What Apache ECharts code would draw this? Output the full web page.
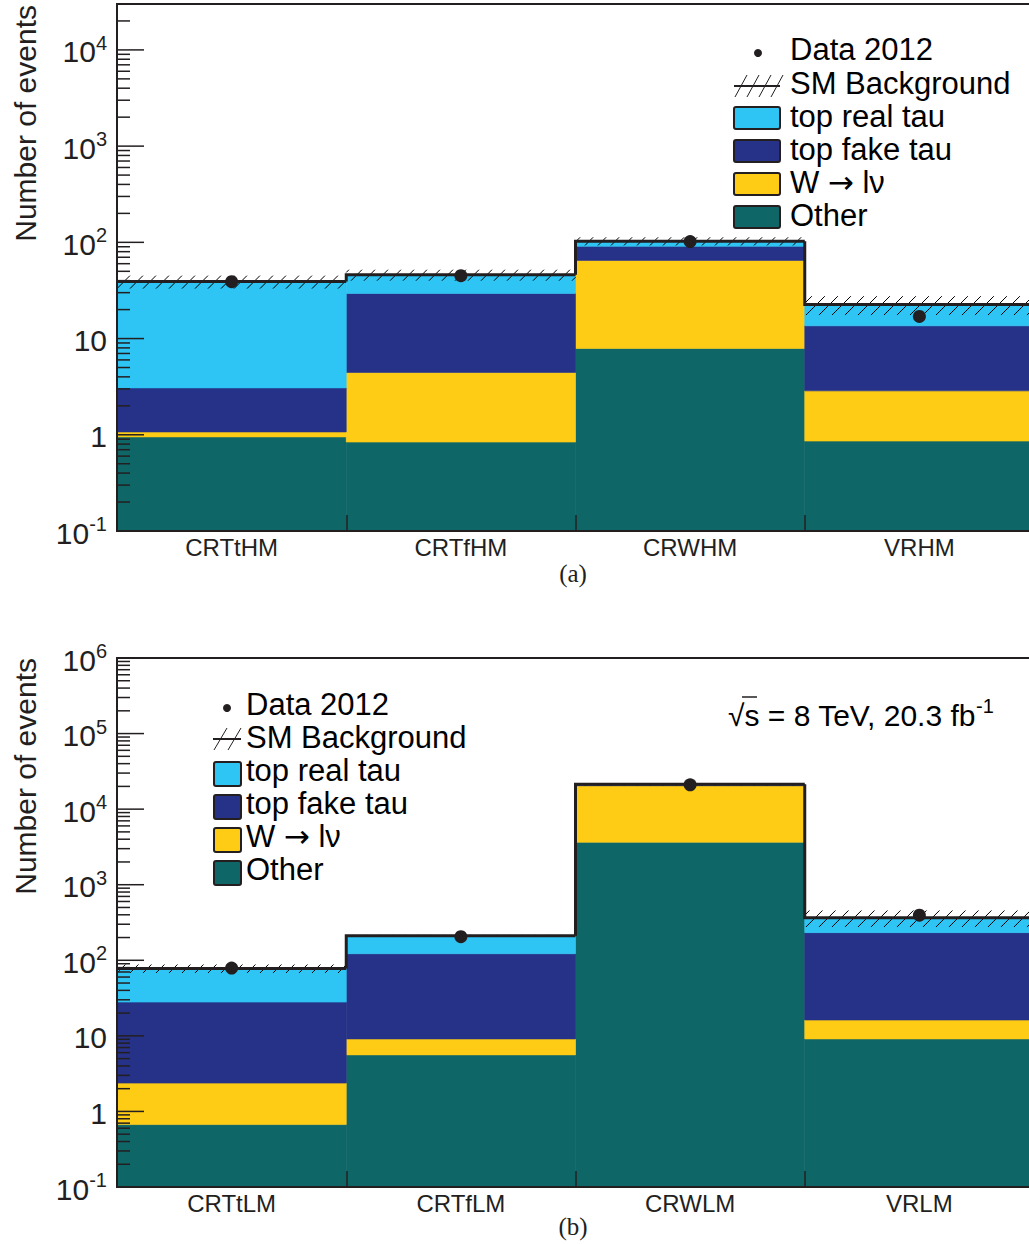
<!DOCTYPE html>
<html><head><meta charset="utf-8">
<script src="https://cdn.jsdelivr.net/npm/echarts@6/dist/echarts.min.js"></script>
<style>html,body{margin:0;padding:0;background:#fff}#c{width:1029px;height:1244px}</style>
</head><body><div id="c"></div>
<script>
// ---------- data (panel a) ----------
const catsA     = ['CRTtHM', 'CRTfHM', 'CRWHM', 'VRHM'];
const otherA    = [0.95, 0.84, 7.9, 0.86];
const wlnuA     = [0.12, 3.6, 57, 2.0];
const topFakeA  = [2.0, 25, 26, 10.7];
const topRealA  = [36, 16.5, 12, 9.0];
const bkgErrA   = [6, 6, 10, 5];
const dataA     = [39, 45, 102, 17];
// ---------- data (panel b) ----------
const catsB     = ['CRTtLM', 'CRTfLM', 'CRWLM', 'VRLM'];
const otherB    = [0.67, 5.6, 3640, 9.1];
const wlnuB     = [1.7, 3.5, 16760, 7.1];
const topFakeB  = [25.6, 113, 650, 216];
const topRealB  = [50, 89, 250, 134];
const bkgErrB   = [10, 6, 850, 90];
const dataB     = [79, 205, 21000, 395];
// ---------- text ----------
const legendLabels = ['Data 2012', 'SM Background', 'top real tau', 'top fake tau', 'W \u2192 l\u03bd', 'Other'];
const panelTags = ['(a)', '(b)'];
const yTitle = 'Number of events';
const yMaxA = 30000, yMaxB = 1000000, yMin = 0.1;

const FONT = "'Liberation Sans', Arial, Helvetica, sans-serif";
const INK = '#231f20';
const COL = ['#0f6667', '#fecb15', '#263287', '#2ec4f3']; // other, W, top fake, top real

function stackRows(comps) {
  const n = comps[0].length, cum = new Array(n).fill(0);
  return comps.map(arr => arr.map((v, i) => { const lo = cum[i]; cum[i] += v; return [i, lo, cum[i]]; }));
}
function totals(comps) { return comps[0].map((_, i) => comps.reduce((s, a) => s + a[i], 0)); }

function rectItem(color) {
  return function (params, api) {
    const cs = params.coordSys, N = 4;
    const i = api.value(0), lo = api.value(1), hi = api.value(2);
    const w = cs.width / N, x0 = cs.x + i * w;
    const yHi = api.coord([i, hi])[1];
    const yLo = lo > 0 ? api.coord([i, lo])[1] : cs.y + cs.height;
    return { type: 'rect', shape: { x: x0, y: yHi, width: w, height: yLo - yHi },
             style: { fill: color, stroke: color, lineWidth: 0.6 } };
  };
}
function hatchItem(params, api) {
  const cs = params.coordSys, N = 4;
  const i = api.value(0), lo = api.value(1), hi = api.value(2);
  const w = cs.width / N, x0 = cs.x + i * w, x1 = x0 + w;
  const yT = api.coord([i, hi])[1], yB = api.coord([i, lo])[1];
  const h = yB - yT, step = 13, children = [];
  const start = cs.x + Math.floor((x0 - h - cs.x) / step) * step;
  for (let x = start; x < x1; x += step) {
    let ax = x, ay = yB, bx = x + h, by = yT;
    if (ax < x0) { const d = x0 - ax; ax = x0; ay = yB - d; }
    if (bx > x1) { const d = bx - x1; bx = x1; by = yT + d; }
    if (bx <= ax) continue;
    children.push({ type: 'line', shape: { x1: ax, y1: ay, x2: bx, y2: by }, style: { stroke: '#000', lineWidth: 1 } });
  }
  return { type: 'group', children };
}
function outlineItem(params, api) {
  const cs = params.coordSys, N = 4;
  const i = api.value(0), t = api.value(1), p = api.value(2);
  const w = cs.width / N, x0 = cs.x + i * w, x1 = x0 + w;
  const y = api.coord([i, t])[1], yp = api.coord([i, p])[1];
  return { type: 'polyline', shape: { points: [[x0, yp], [x0, y], [x1, y]] },
           style: { stroke: INK, lineWidth: 3, fill: null, lineJoin: 'miter' } };
}
function tickItem(params, api) {
  const cs = params.coordSys;
  const v = api.value(1), major = api.value(2);
  const y = api.coord([0, v])[1];
  const len = major ? 27 : 13;
  return { type: 'line', shape: { x1: cs.x, y1: y, x2: cs.x + len, y2: y }, style: { stroke: INK, lineWidth: 1.5 } };
}
function tickData(max) {
  const out = [];
  for (let e = -1; e <= 6; e++) for (let m = 1; m <= 9; m++) {
    const v = m * Math.pow(10, e);
    if (v >= yMin * 0.999 && v <= max * 1.001) out.push([0, v, m === 1 ? 1 : 0]);
  }
  return out;
}
function logLabel(v) {
  const l = Math.log10(v), e = Math.round(l);
  if (Math.abs(l - e) > 1e-6) return '';
  if (e === 0) return '{b|1}';
  if (e === 1) return '{b|10}';
  return '{b|10}{s|' + e + '}';
}

function panel(g, cats, comps, err, data, yMax) {
  const rows = stackRows(comps), tot = totals(comps);
  const series = rows.map((r, k) => ({
    type: 'custom', xAxisIndex: g, yAxisIndex: g, renderItem: rectItem(COL[k]),
    encode: { x: 0, y: [1, 2] }, data: r, z: 1, silent: true
  }));
  series.push({ type: 'custom', xAxisIndex: g, yAxisIndex: g, renderItem: hatchItem, encode: { x: 0, y: [1, 2] },
    data: tot.map((t, i) => [i, t - err[i], t + err[i]]), z: 3, silent: true });
  series.push({ type: 'custom', xAxisIndex: g, yAxisIndex: g, renderItem: outlineItem, encode: { x: 0, y: [1, 2] },
    data: tot.map((t, i) => [i, t, i ? tot[i - 1] : t]), z: 4, silent: true });
  series.push({ type: 'scatter', xAxisIndex: g, yAxisIndex: g, symbol: 'circle', symbolSize: 13,
    itemStyle: { color: INK, opacity: 1 }, data: data.map((v, i) => [i, v]), z: 5, silent: true });
  series.push({ type: 'custom', xAxisIndex: g, yAxisIndex: g, renderItem: tickItem, encode: { x: 0, y: 1 },
    data: tickData(yMax), z: 6, silent: true });
  const xAxis = {
    type: 'category', gridIndex: g, data: cats, boundaryGap: true, z: 10,
    axisLine: { lineStyle: { color: INK, width: 2 } },
    axisTick: { show: true, inside: true, length: 16, lineStyle: { color: INK, width: 1.5 } },
    axisLabel: { fontSize: 24, fontFamily: FONT, color: INK, margin: 4 },
    splitLine: { show: false }
  };
  const yAxis = {
    type: 'log', logBase: 10, gridIndex: g, min: yMin, max: yMax, z: 10,
    splitNumber: g ? 7 : 6,
    axisLine: { show: true, lineStyle: { color: INK, width: 2 } },
    axisTick: { show: false }, splitLine: { show: false },
    axisLabel: {
      margin: 10, formatter: logLabel, showMinLabel: true, showMaxLabel: true,
      rich: {
        b: { fontSize: 30, fontFamily: FONT, color: INK, lineHeight: 34, verticalAlign: 'bottom' },
        s: { fontSize: 20, fontFamily: FONT, color: INK, lineHeight: 20, verticalAlign: 'top' }
      }
    }
  };
  return { series, xAxis, yAxis };
}

const pA = panel(0, catsA, [otherA, wlnuA, topFakeA, topRealA], bkgErrA, dataA, yMaxA);
const pB = panel(1, catsB, [otherB, wlnuB, topFakeB, topRealB], bkgErrB, dataB, yMaxB);

const LEG_RICH = {
  t: { fontSize: 31, fontFamily: FONT, color: INK },
  a: { fontSize: 31, fontFamily: "'DejaVu Sans', sans-serif", color: INK }
};
function legText(x, y, text) {
  const parts = text.split('\u2192');
  const rich = parts.length > 1 ? '{t|' + parts[0] + '}{a|\u2192}{t|' + parts[1] + '}' : '{t|' + text + '}';
  return { type: 'text', x, y, z: 50, style: { text: rich, rich: LEG_RICH, align: 'left', verticalAlign: 'middle' } };
}
function txt(x, y, text, size, extra) {
  return Object.assign({ type: 'text', x, y, z: 50,
    style: Object.assign({ text, fontSize: size, fontFamily: FONT, fill: INK, align: 'left', verticalAlign: 'middle' }, extra || {}) });
}
function ln(x1, y1, x2, y2, w) {
  return { type: 'line', z: 50, shape: { x1, y1, x2, y2 }, style: { stroke: INK, lineWidth: w || 1 } };
}
function box(x, y, w, h, fill) {
  return { type: 'rect', z: 50, shape: { x, y, width: w, height: h, r: 2 }, style: { fill, stroke: INK, lineWidth: 2 } };
}

const graphics = [];
[[25, 5], [25, 658]].forEach(([x, y]) => graphics.push({ type: 'text', x, y, rotation: Math.PI / 2, z: 50,
  style: { text: yTitle, fontSize: 30, fontFamily: FONT, fill: INK, align: 'right', verticalAlign: 'middle' } }));
graphics.push(txt(573, 573, panelTags[0], 25, { align: 'center', fontFamily: "'Liberation Serif', 'DejaVu Serif', serif" }));
graphics.push(txt(573, 1226, panelTags[1], 25, { align: 'center', fontFamily: "'Liberation Serif', 'DejaVu Serif', serif" }));
(function () {
  const tx = 790, ys = [49, 83, 116, 149, 182, 215];
  graphics.push({ type: 'circle', z: 50, shape: { cx: 758, cy: 53, r: 4 }, style: { fill: INK } });
  graphics.push(ln(734, 86, 780, 86, 2));
  for (let k = 0; k < 4; k++) graphics.push(ln(735 + k * 12, 97, 747 + k * 12, 75, 1));
  [COL[3], COL[2], COL[1], COL[0]].forEach((c, k) => graphics.push(box(734, ys[k + 2] - 9, 46, 22, c)));
  legendLabels.forEach((t, k) => graphics.push(legText(tx, ys[k], t)));
})();
(function () {
  const tx = 246, ys = [704, 737, 770, 803, 836, 869];
  graphics.push({ type: 'circle', z: 50, shape: { cx: 227, cy: 708, r: 4 }, style: { fill: INK } });
  graphics.push(ln(213, 739, 241, 739, 2));
  for (let k = 0; k < 2; k++) graphics.push(ln(214 + k * 14, 750, 227 + k * 14, 728, 1));
  [COL[3], COL[2], COL[1], COL[0]].forEach((c, k) => graphics.push(box(214, ys[k + 2] - 8, 27, 24, c)));
  legendLabels.forEach((t, k) => graphics.push(legText(tx, ys[k], t)));
})();
graphics.push({ type: 'text', x: 728, y: 713, z: 50, style: {
  text: '{m|\u221As = 8 TeV, 20.3 fb}{s|-1}', verticalAlign: 'middle', align: 'left',
  rich: { m: { fontSize: 30, fontFamily: FONT, color: INK, lineHeight: 34, verticalAlign: 'bottom' },
          s: { fontSize: 20, fontFamily: FONT, color: INK, lineHeight: 20, verticalAlign: 'top' } } } });
graphics.push(ln(742, 697, 757, 697, 1.5));

const chart = echarts.init(document.getElementById('c'), null, { renderer: 'svg' });
chart.setOption({
  animation: false,
  backgroundColor: '#fff',
  grid: [
    { left: 117, top: 4, width: 917, height: 527, show: true, borderColor: INK, borderWidth: 2, backgroundColor: 'transparent', containLabel: false, outerBoundsMode: 'none' },
    { left: 117, top: 658, width: 917, height: 529, show: true, borderColor: INK, borderWidth: 2, backgroundColor: 'transparent', containLabel: false, outerBoundsMode: 'none' }
  ],
  xAxis: [pA.xAxis, pB.xAxis],
  yAxis: [pA.yAxis, pB.yAxis],
  series: pA.series.concat(pB.series),
  graphic: graphics
});
</script></body></html>
